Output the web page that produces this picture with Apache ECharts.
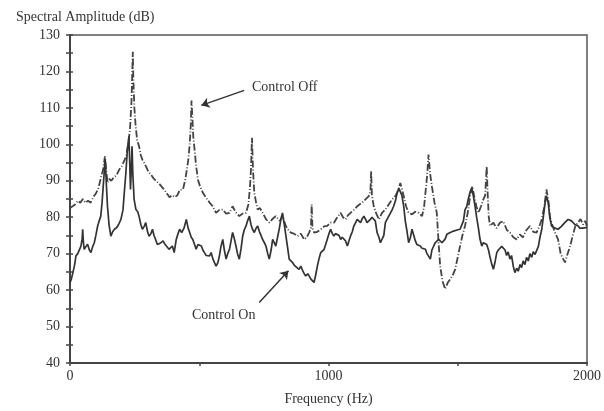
<!DOCTYPE html>
<html><head><meta charset="utf-8">
<script src="https://cdn.jsdelivr.net/npm/echarts@6/dist/echarts.min.js"></script>
<style>html,body{margin:0;padding:0;background:#fff}#c{width:604px;height:411px}</style>
</head><body><div id="c"></div>
<script>
// Control Off spectrum (Hz, dB)
const offFreq = [0,10,20,30,40,50,60,70,80,90,100,110,120,128,135,140,145,152,160,170,180,190,200,210,218,225,232,238,241,243,245,249,254,260,267,274,280,290,300,306,315,325,331,340,350,357,365,375,385,395,405,415,425,437,445,452,458,463,467,470,473,477,482,488,495,503,514,525,540,552,565,578,591,604,617,629,640,655,668,681,690,696,700,704,708,713,720,726,735,745,758,771,783,796,803,812,822,835,845,854,866,880,893,906,916,925,932,935,938,944,957,970,983,995,1008,1021,1034,1047,1056,1066,1075,1085,1098,1111,1120,1130,1143,1156,1162,1165,1168,1175,1185,1195,1207,1220,1233,1246,1256,1265,1272,1278,1285,1291,1300,1310,1323,1336,1349,1362,1370,1375,1381,1387,1393,1400,1410,1419,1425,1432,1441,1451,1461,1471,1480,1490,1500,1509,1518,1528,1538,1548,1556,1563,1572,1580,1590,1599,1606,1612,1616,1620,1625,1638,1650,1663,1676,1690,1702,1715,1728,1740,1752,1766,1779,1792,1805,1818,1825,1835,1843,1850,1857,1863,1875,1888,1898,1908,1915,1925,1935,1945,1955,1965,1975,1985,1993,2000];
const offDb = [82.5,83,83.5,84.5,84,85,84,84.5,84,85.5,86.5,88,91,93,96.7,93,89.5,90.5,90,91,91.5,93,94,95.5,97,100,104,112,120,125.4,118,110,105,101,99.5,97,95.8,94.5,93,92.2,91.5,90.5,90.3,89.5,88.8,88.5,87.5,86.5,85.5,86,85.5,86,87.5,87.6,90,93,96,100,105,112,108,102,98.5,94,90.3,88.5,86.7,85.5,84,83,81.2,82,82.1,81,81.2,83,81.5,80.3,81,81.2,83.5,88,93,101.8,93,86.7,84,82.1,82.5,81.2,79.5,78.5,79.5,80.3,80.3,79,80.3,77.6,76.5,75.8,75.5,74.8,75.5,73.9,74.5,75.8,77,83.5,77,75.8,76,76.7,77.5,77.6,78.5,78.5,80,81.2,80,79.4,80.5,81.2,82,83,83.5,84,84.9,85.8,87,92.6,86,83,81,79.4,81.2,82.1,83.5,84.9,85.5,86.7,88,89.4,87.5,85.8,83,81.2,80.8,81.5,81.2,80.3,83,86.7,91,97.2,92,88.5,84,81.2,74,66.6,62.5,60.3,62,63,64,65.7,69,72.1,75,77.6,81,85.8,88.5,86,83,81.2,83,84.9,86,94,86,80,77.6,78.5,77,78.5,78.9,76.5,75.8,74.5,73.9,75.3,74.5,76.5,77.6,76,75.8,78,79.4,83,87.6,85,80,78.5,76,73.9,70,68.5,67.6,70,72.1,75,77.6,78.5,79.5,78,79,77.5];
// Control On spectrum (Hz, dB)
const onFreq = [0,5,12,18,23,30,36,42,47,49,52,55,62,68,75,81,88,94,100,107,113,119,124,128,132,136,140,145,151,158,165,172,180,188,197,205,210,216,222,228,231,234,237,240,243,248,255,262,267,274,280,287,293,300,306,313,319,325,331,338,344,352,360,368,375,383,389,396,403,411,418,424,432,441,450,457,463,469,475,482,488,495,501,508,514,520,527,533,540,546,553,559,565,572,578,584,591,597,604,610,617,623,629,636,642,648,655,662,668,674,681,687,694,700,706,713,720,726,733,739,745,752,758,765,771,778,784,790,796,803,810,816,822,829,835,841,848,855,862,868,875,886,893,899,906,912,920,925,932,938,944,950,957,963,970,976,983,989,995,1002,1008,1015,1021,1027,1034,1041,1047,1053,1060,1066,1073,1079,1085,1092,1098,1105,1111,1118,1124,1130,1137,1143,1149,1156,1162,1168,1175,1181,1188,1195,1201,1207,1214,1220,1227,1233,1240,1246,1252,1259,1265,1272,1278,1284,1291,1297,1304,1310,1317,1323,1330,1336,1342,1349,1355,1362,1368,1375,1381,1387,1394,1400,1407,1413,1420,1426,1432,1439,1445,1451,1458,1464,1471,1477,1484,1490,1497,1503,1509,1516,1522,1528,1535,1541,1548,1554,1560,1567,1573,1580,1586,1593,1599,1606,1612,1619,1625,1632,1638,1645,1651,1657,1664,1670,1676,1683,1689,1695,1702,1708,1715,1721,1728,1734,1741,1747,1753,1760,1766,1773,1779,1786,1792,1799,1805,1812,1818,1825,1831,1837,1843,1850,1856,1863,1869,1876,1882,1888,1895,1901,1908,1914,1921,1927,1933,1940,1946,1953,1959,1966,1972,1979,1985,1992,2000];
const onDb = [62,63,65,67,69.4,70,70.3,72,74,76.7,73,71.2,72,72.6,71,70.3,72,73,75,77.6,79,80.3,84,88,92,96,90,83,78,74.8,76,76.7,77.1,78,79.4,82,86.7,92,98.5,102.2,95,87.6,93,99.5,92,84.9,82.1,81.5,80.3,78,76.7,77.5,78.5,76,74.8,75.5,76.7,75,73.9,72.5,72.1,73,73.5,72.5,72,71.2,71.2,72.1,70.3,73.9,75.5,76.7,75.8,77,79.4,77,75.8,74.5,73.9,72.5,71.2,72.5,73,72.1,71,70.3,69.5,69.4,69.4,70.3,68.5,68,66.6,67.5,69.4,72,73.9,71,68.5,70,71.2,73.5,75.8,74,72.1,70,68.5,71.5,74.8,76.5,77.6,79,80.3,78,76.7,75.8,77,77.6,76,75,73.9,73,72.1,70,68.5,71,73.9,73,72.1,74.5,77,79.5,81.2,78,75,72.1,68.5,68.5,67.5,66.8,66.6,65.7,66.6,65.5,64.5,63.9,64.5,63.9,63,62.6,62.1,64,66.6,68.5,70.3,70.8,71.2,72.5,73.9,75.5,76.7,75.5,74.8,75.5,75.8,75,73.9,74.5,74.8,73.5,72.1,73.5,74.8,76,77.6,78.5,79.4,79,78.5,79.5,80.3,79.5,78.5,79,79.4,80,80.3,79,75.8,74.5,73,73,75,78.5,79.5,80,81.2,82,83,84.5,86.5,88,88.5,86,83,79,76,73,74.5,76.7,75,73.5,72.5,72.1,72.1,71.5,72,71.2,70,70.5,68.5,71,72.1,73,73.5,73.9,73.5,73,73,74,75.3,75.5,75.8,76,76.2,76,76.5,76.7,76.7,76.7,79,82,83,85,87,88,86,83,80,77,74,72.1,73,73,72.5,71,69,67,65.7,68,70.3,71,71.5,72,72.1,71,69.5,70.5,68.5,69.5,66.5,64.8,66,65.2,67,66.2,68,67,69,68,70,69,70.5,69.8,70.3,72,74.5,76.7,80,83.5,85.8,84,80,77.6,77.6,77,76.7,76.7,77,77.5,78,78.5,79,79.4,79.4,79,78.5,78,77.6,77.6,77,76.7,77,77.5,77.2];
// Axis settings
const xTickLabels = [0, 1000, 2000];
const yMin = 40, yMax = 130, yStep = 10;

const serif = 'Liberation Serif';
const ink = '#333';
const zip = (a, b) => a.map((v, i) => [v, b[i]]);

const chart = echarts.init(document.getElementById('c'), null, {renderer: 'canvas'});
chart.setOption({
  animation: false,
  backgroundColor: '#fff',
  title: {
    text: 'Spectral Amplitude (dB)', left: 16, top: 10, padding: 0,
    textStyle: {fontFamily: serif, fontSize: 14, fontWeight: 'normal', color: ink}
  },
  grid: {left: 70, right: 15, top: 35, bottom: 46, show: true, borderColor: '#555', borderWidth: 1.5, backgroundColor: 'transparent'},
  xAxis: {
    type: 'value', min: 0, max: 2000, interval: 500,
    axisLine: {show: true, onZero: false, lineStyle: {color: '#444', width: 2}},
    axisTick: {show: true, length: 3, lineStyle: {color: '#444', width: 1.5}},
    splitLine: {show: false},
    axisLabel: {
      margin: 6, fontFamily: serif, fontSize: 14, color: ink,
      formatter: v => xTickLabels.includes(v) ? String(v) : ''
    },
    name: 'Frequency (Hz)', nameLocation: 'middle', nameGap: 29,
    nameTextStyle: {fontFamily: serif, fontSize: 14, color: ink}
  },
  yAxis: [{
    type: 'value', min: yMin, max: yMax, interval: yStep, position: 'left',
    axisLine: {show: true, onZero: false, lineStyle: {color: '#444', width: 2}},
    axisTick: {show: true, length: 4, lineStyle: {color: '#444', width: 1.5}},
    minorTick: {show: true, splitNumber: 2, length: 4, lineStyle: {color: '#444', width: 1.5}},
    splitLine: {show: false},
    axisLabel: {margin: 10, fontFamily: serif, fontSize: 14, color: ink}
  }, {
    type: 'value', min: yMin, max: yMax, interval: yStep, position: 'left', offset: 0,
    axisLine: {show: false},
    axisTick: {show: true, inside: true, length: 3, lineStyle: {color: '#444', width: 1.5}},
    minorTick: {show: true, splitNumber: 2, length: 3, lineStyle: {color: '#444', width: 1.5}},
    splitLine: {show: false},
    axisLabel: {show: false}
  }],
  series: [{
    name: 'Control Off', type: 'line', showSymbol: false, z: 2,
    data: zip(offFreq, offDb),
    lineStyle: {color: '#444', width: 1.8, type: [7, 2, 1, 2]},
    markLine: {
      silent: true, symbol: ['none', 'arrow'], symbolSize: 8,
      label: {show: false},
      lineStyle: {color: ink, width: 1.5, type: 'solid'},
      data: [[{coord: [674, 114.8]}, {coord: [508, 110.7]}]]
    }
  }, {
    name: 'Control On', type: 'line', showSymbol: false, z: 3,
    data: zip(onFreq, onDb),
    lineStyle: {color: '#333', width: 1.7},
    markLine: {
      silent: true, symbol: ['none', 'arrow'], symbolSize: 8,
      label: {show: false},
      lineStyle: {color: ink, width: 1.5, type: 'solid'},
      data: [[{coord: [732, 56.6]}, {coord: [845, 65.3]}]]
    }
  }],
  graphic: [
    {type: 'text', left: 252, top: 80, style: {text: 'Control Off', font: '14px "Liberation Serif"', fill: ink}},
    {type: 'text', left: 192, top: 308, style: {text: 'Control On', font: '14px "Liberation Serif"', fill: ink}}
  ]
});
</script>
</body></html>
